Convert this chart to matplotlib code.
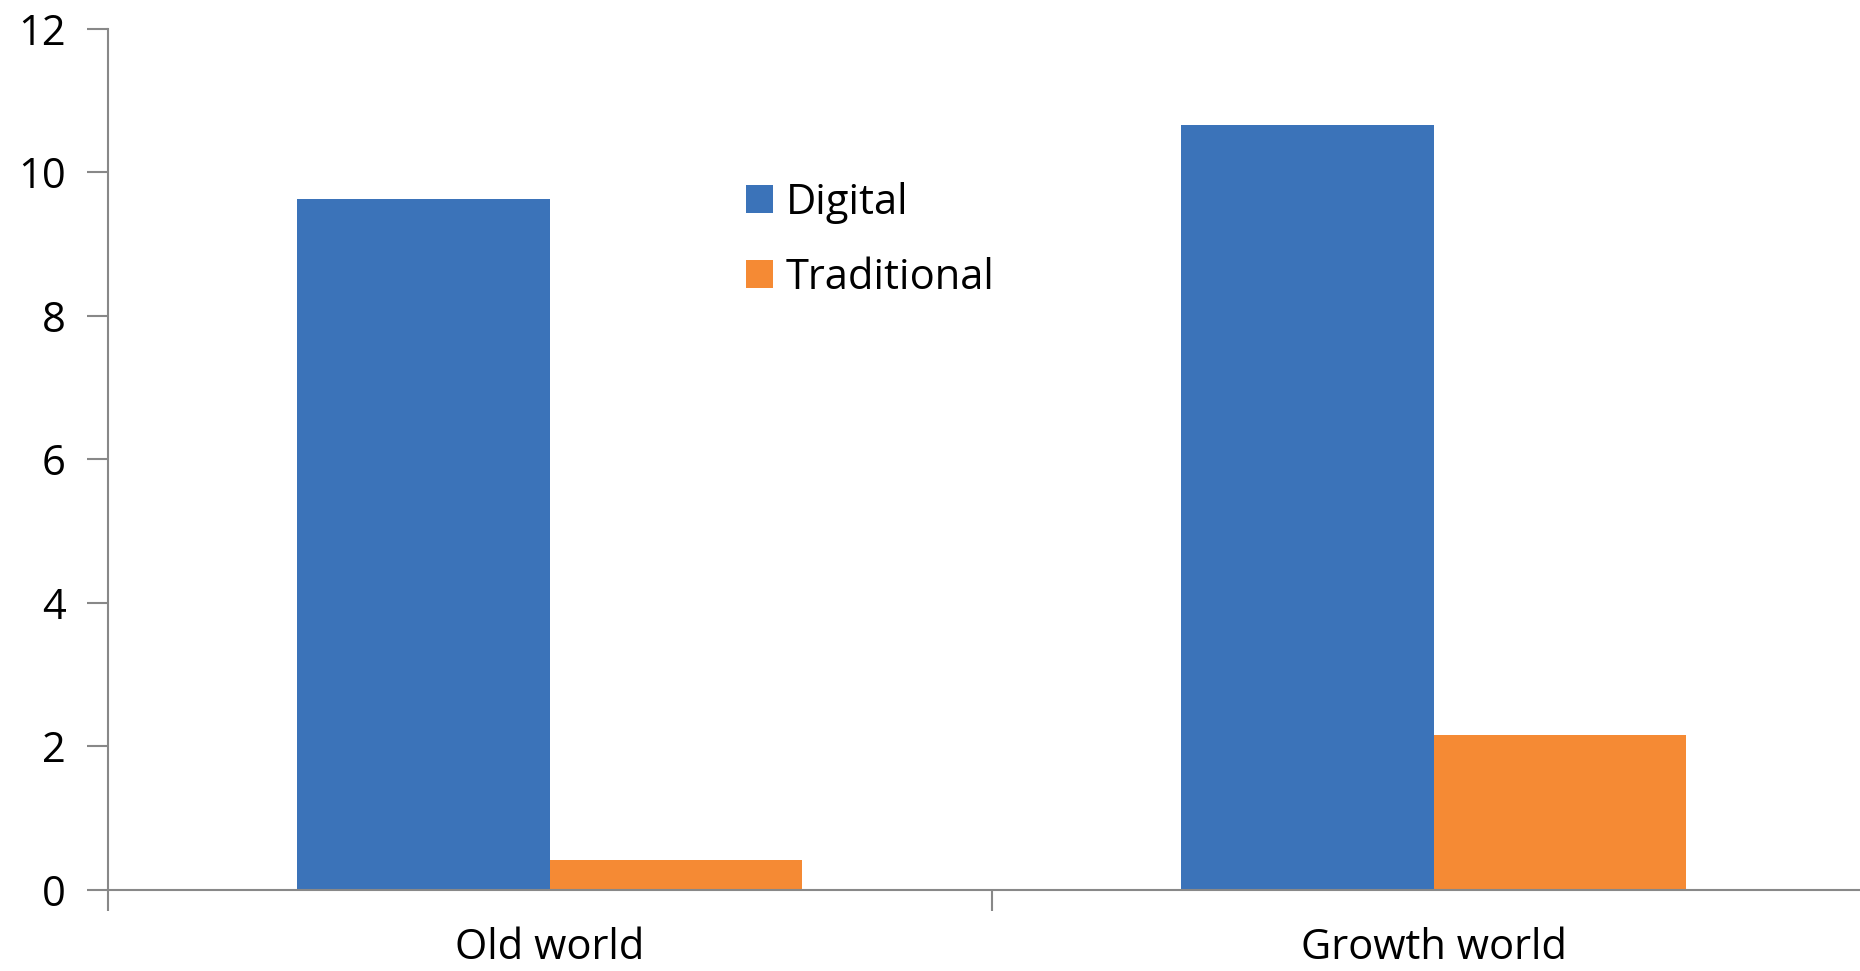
import matplotlib.pyplot as plt
import numpy as np

# spending by region, two channels
categories = ["Old world", "Growth world"]
digital = [9.63, 10.66]
traditional = [0.41, 2.16]
series_names = ["Digital", "Traditional"]
colors = ["#3B73B9", "#F58A34"]

plt.rcParams['font.family'] = ['Open Sans', 'DejaVu Sans']

fig = plt.figure(figsize=(18.6, 9.71), dpi=100)
ax = fig.add_axes([0.0578, 0.0837, 0.9506, 0.8866])

x = np.arange(len(categories))
width = 0.286
ax.bar(x - width / 2, digital, width, color=colors[0], label=series_names[0])
ax.bar(x + width / 2, traditional, width, color=colors[1], label=series_names[1])

ax.set_xlim(-0.5, len(categories) - 0.5)
ax.set_ylim(0, 12)
ax.set_yticks(range(0, 13, 2))

# category labels sit between the boundary ticks
ax.set_xticks(np.arange(-0.5, len(categories)), labels=[""] * (len(categories) + 1))
ax.set_xticks(x, labels=categories, minor=True)
ax.tick_params(axis='x', which='minor', length=0, pad=27, labelsize=30)
ax.tick_params(axis='x', which='major', length=15, width=1.5, color='#888888')
ax.tick_params(axis='y', length=15, width=1.5, color='#888888', pad=15, labelsize=30)

for side in ['top', 'right']:
    ax.spines[side].set_visible(False)
for side in ['left', 'bottom']:
    ax.spines[side].set_color('#888888')
    ax.spines[side].set_linewidth(1.5)

ax.legend(loc='upper left', bbox_to_anchor=(0.34, 0.866), frameon=False,
          fontsize=30, handlelength=0.65, handleheight=0.65,
          handletextpad=0.3, labelspacing=0.8)

fig.savefig("out.png")
